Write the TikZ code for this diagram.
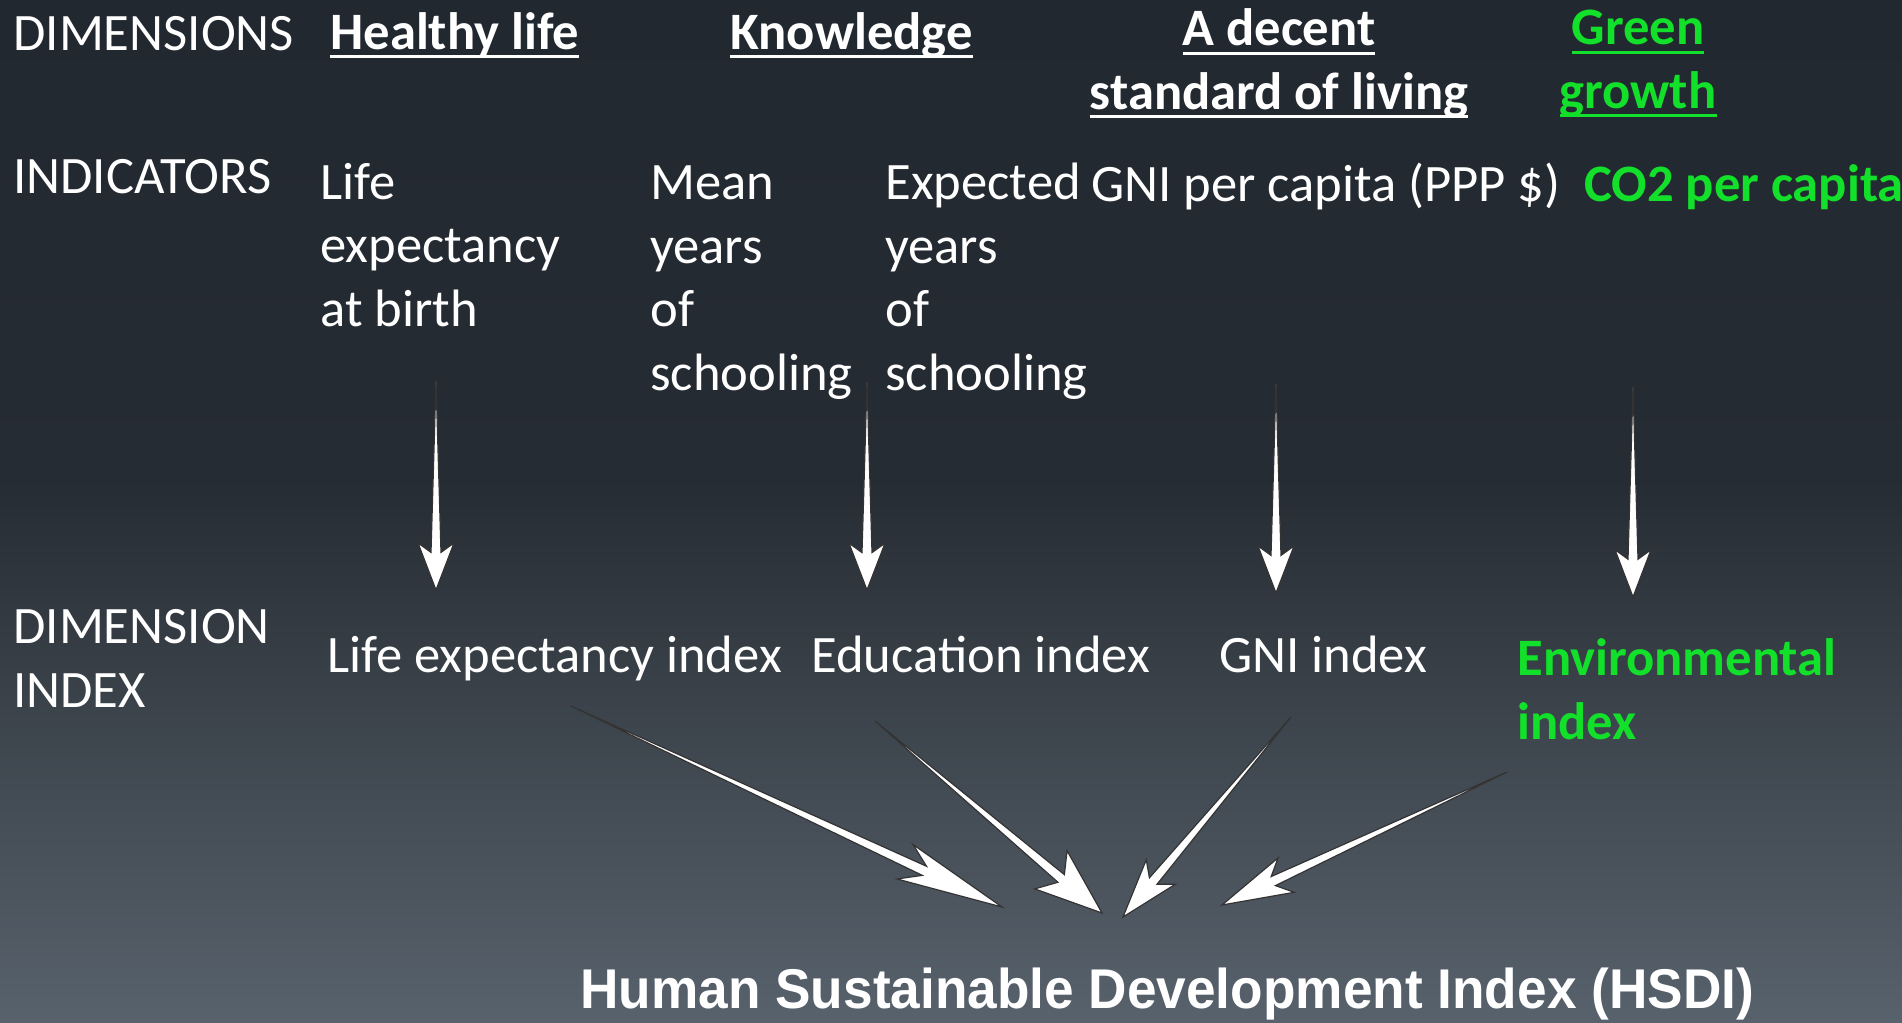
\documentclass[tikz,border=0pt]{standalone}
\usepackage{fontspec}
\setmainfont{Carlito}
\newfontfamily\titlefont[FakeStretch=0.95]{Liberation Sans}
\usetikzlibrary{calc,positioning}

\definecolor{slidetop}{RGB}{34,40,47}
\definecolor{slidemid}{RGB}{38,44,51}
\definecolor{slidebot}{RGB}{88,98,108}
\definecolor{hsdgreen}{RGB}{18,224,42}

% underline at a fixed depth, through the descenders
\newsavebox\ulbox
\newcommand\ulbar[1]{\sbox\ulbox{#1}\rlap{\rule[-4.5pt]{\wd\ulbox}{1.5pt}}\usebox\ulbox}

% tapered arrow from #2 to #3, head grows with length, #1 = half width of head
\newcommand\slimarrow[3][9.5pt]{%
  \coordinate (sa-n) at ($(#3)!0.18!(#2)$);
  \coordinate (sa-b) at ($(#3)!0.225!(#2)$);
  \path[slim arrow] (#2) -- ($(sa-n)!2.5pt!90:(#3)$) -- ($(sa-b)!#1!90:(#3)$)
    -- (#3) -- ($(sa-b)!#1!-90:(#3)$) -- ($(sa-n)!2.5pt!-90:(#3)$) -- cycle;
}

\begin{document}
\begin{tikzpicture}[
x=0.5pt, y=-0.5pt,
every node/.style={inner sep=0pt, text=white, font=\fontsize{26.3}{31.75}\selectfont},
rowhead/.style={anchor=base west, align=left},
dimhead/.style={anchor=base, align=center, font=\fontsize{26.3}{31.75}\selectfont\bfseries},
greentext/.style={text=hsdgreen, font=\fontsize{26.3}{31.75}\selectfont\bfseries},
slim arrow/.style={fill=white, draw=black!80, line width=0.6pt}]
% Background
\shade[top color=slidetop, bottom color=slidemid] (0,0) rectangle (1902,480);
\shade[top color=slidemid, bottom color=slidebot] (0,480) rectangle (1902,1023);
\useasboundingbox (0,0) rectangle (1902,1023);
% Row heads (multi-line nodes sit on their last baseline)
\node[rowhead] (dims) at (13,50) {DIMENSIONS};
\node[rowhead] (inds) at (13,193) {INDICATORS};
\node[rowhead] (dimidx) at (13,707) {DIMENSION\\INDEX};
% Dimensions
\node[dimhead, anchor=base west] (healthy) at (330,49) {\ulbar{Healthy life}};
\node[dimhead, anchor=base west] (knowledge) at (730,49) {\ulbar{Knowledge}};
\node[dimhead] (living) at (1279,109) {\ulbar{A decent}\\\ulbar{standard of living}};
\node[dimhead, text=hsdgreen] (green) at (1638,108) {\ulbar{Green}\\\ulbar{growth}};
% Indicators
\node[rowhead] (lifeexp) at (320,326) {Life\\expectancy\\at birth};
\node[rowhead] (meanyrs) at (650,390) {Mean\\years\\of\\schooling};
\node[rowhead] (expyrs) at (885,390) {Expected\\years\\of\\schooling};
\node[rowhead] (gni) at (1091,201) {GNI per capita (PPP \$)};
\node[rowhead, greentext] (co2) at (1584,201) {CO2 per capita};
% Dimension indices
\node[rowhead] (lifeidx) at (327,672) {Life expectancy index};
\node[rowhead] (eduidx) at (811,672) {Education index};
\node[rowhead] (gniidx) at (1219,672) {GNI index};
\node[rowhead, greentext] (envidx) at (1517,739) {Environmental\\index};
% Final index
\node[anchor=base west, font=\titlefont\bfseries\fontsize{28}{32}\selectfont] (hsdi) at (580,1008) {Human Sustainable Development Index (HSDI)};
% Arrow ends
\coordinate (life-from) at (436,381);
\coordinate (life-to) at (436,590);
\coordinate (edu-from) at (867,382);
\coordinate (edu-to) at (867,590);
\coordinate (gni-from) at (1276,384);
\coordinate (gni-to) at (1276,593);
\coordinate (env-from) at (1633,387);
\coordinate (env-to) at (1633,597);
\coordinate (lifeidx-from) at (571,706);
\coordinate (eduidx-from) at (875,721);
\coordinate (gniidx-from) at (1291,717);
\coordinate (envidx-from) at (1507,772);
\coordinate (lifeidx-to) at (1002,907);
\coordinate (eduidx-to) at (1102,913);
\coordinate (gniidx-to) at (1123,917);
\coordinate (envidx-to) at (1222,905);
% Arrows
\slimarrow[9pt]{life-from}{life-to}
\slimarrow[9pt]{edu-from}{edu-to}
\slimarrow[9pt]{gni-from}{gni-to}
\slimarrow[9pt]{env-from}{env-to}
\slimarrow{lifeidx-from}{lifeidx-to}
\slimarrow[12.5pt]{eduidx-from}{eduidx-to}
\slimarrow{gniidx-from}{gniidx-to}
\slimarrow{envidx-from}{envidx-to}
\end{tikzpicture}
\end{document}
